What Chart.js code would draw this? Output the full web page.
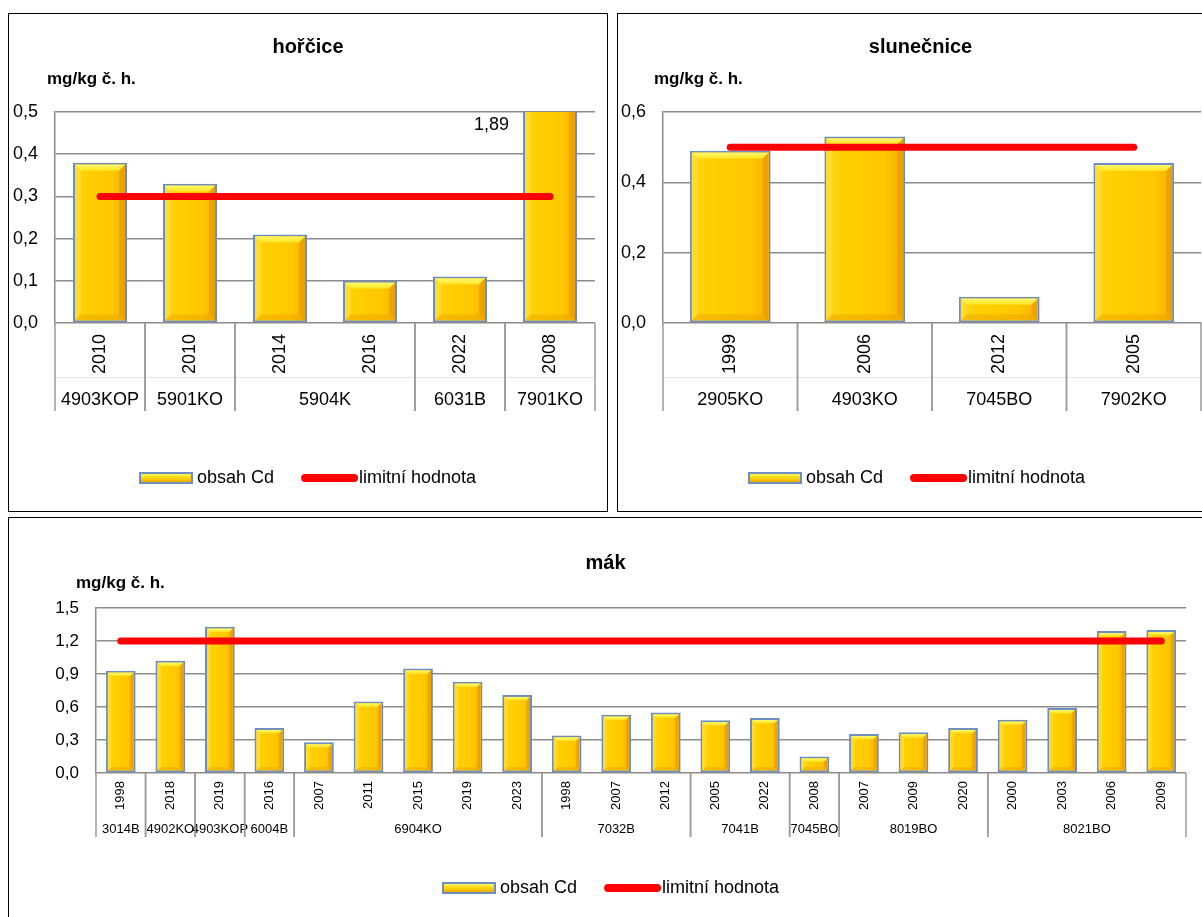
<!DOCTYPE html>
<html lang="cs">
<head>
<meta charset="utf-8">
<title>Obsah Cd – hořčice, slunečnice, mák</title>
<script src="https://cdn.jsdelivr.net/npm/chart.js@4.4.1/dist/chart.umd.min.js"></script>
<style>
  html, body { margin: 0; padding: 0; background: #fff; overflow: hidden; }
  #page { position: relative; width: 1202px; height: 917px; overflow: hidden; background: #fff; }
  .box { position: absolute; border: 1px solid #000; box-sizing: border-box; background: #fff; }
  .box canvas { position: absolute; left: 0; top: 0; }
  #boxHorcice { left: 8px; top: 13px; width: 600px; height: 499px; }
  #boxSlunecnice { left: 617px; top: 13px; width: 607px; height: 499px; }
  #boxMak { left: 8px; top: 517px; width: 1195px; height: 402px; }
</style>
</head>
<body>
<div id="page">
  <div class="box" id="boxHorcice"><canvas id="horcice" width="598" height="497"></canvas></div>
  <div class="box" id="boxSlunecnice"><canvas id="slunecnice" width="605" height="497"></canvas></div>
  <div class="box" id="boxMak"><canvas id="mak" width="1193" height="400"></canvas></div>
</div>
<script>
// hořčice
const horciceYears = ['2010', '2010', '2014', '2016', '2022', '2008'];
const horciceSites = ['4903KOP', '5901KO', '5904K', '5904K', '6031B', '7901KO'];
const horciceCd = [0.38, 0.33, 0.21, 0.10, 0.11, 1.89];
const horciceLimit = [0.3, 0.3, 0.3, 0.3, 0.3, 0.3];
const horciceTicks = [0, 0.1, 0.2, 0.3, 0.4, 0.5];

// slunečnice
const slunecniceYears = ['1999', '2006', '2012', '2005'];
const slunecniceSites = ['2905KO', '4903KO', '7045BO', '7902KO'];
const slunecniceCd = [0.49, 0.53, 0.075, 0.455];
const slunecniceLimit = [0.5, 0.5, 0.5, 0.5];
const slunecniceTicks = [0, 0.2, 0.4, 0.6];

// mák
const makYears = ['1998', '2018', '2019', '2016', '2007', '2011', '2015', '2019', '2023',
  '1998', '2007', '2012', '2005', '2022', '2008', '2007', '2009', '2020',
  '2000', '2003', '2006', '2009'];
const makSites = ['3014B', '4902KO', '4903KOP', '6004B', '6904KO', '6904KO', '6904KO', '6904KO', '6904KO',
  '7032B', '7032B', '7032B', '7041B', '7041B', '7045BO', '8019BO', '8019BO', '8019BO',
  '8021BO', '8021BO', '8021BO', '8021BO'];
const makCd = [0.93, 1.02, 1.33, 0.41, 0.28, 0.65, 0.95, 0.83, 0.71,
  0.34, 0.53, 0.55, 0.48, 0.50, 0.15, 0.355, 0.37, 0.41,
  0.485, 0.59, 1.29, 1.30];
const makLimit = [1.2, 1.2, 1.2, 1.2, 1.2, 1.2, 1.2, 1.2, 1.2, 1.2, 1.2,
  1.2, 1.2, 1.2, 1.2, 1.2, 1.2, 1.2, 1.2, 1.2, 1.2, 1.2];
const makTicks = [0, 0.3, 0.6, 0.9, 1.2, 1.5];

const FONT = "'Liberation Sans', Arial, Helvetica, sans-serif";
const GRID = '#8c8c8c';
const BAR_EDGE = '#6d8ec0';
const UNIT = 'mg/kg č. h.';

Chart.defaults.font.family = FONT;
Chart.defaults.color = '#000';

const comma = v => String(v).replace('.', ',');

function poly(ctx, pts, fill) {
  ctx.beginPath();
  ctx.moveTo(pts[0][0], pts[0][1]);
  for (let i = 1; i < pts.length; i++) ctx.lineTo(pts[i][0], pts[i][1]);
  ctx.closePath();
  ctx.fillStyle = fill;
  ctx.fill();
}

// yellow bevelled face painted inside the border of a bar element
function bevel(ctx, bar) {
  const bw = 2;
  const l = bar.x - bar.width / 2 + bw, r = bar.x + bar.width / 2 - bw;
  const t = Math.min(bar.y, bar.base) + bw, btm = Math.max(bar.y, bar.base) - bw;
  if (r - l < 2 || btm - t < 2) return;
  const b = Math.min(6, (r - l) * 0.13, (btm - t) / 2);

  const g = ctx.createLinearGradient(l, 0, r, 0);
  g.addColorStop(0, '#ffd41f');
  g.addColorStop(0.2, '#ffd000');
  g.addColorStop(0.75, '#ffc700');
  g.addColorStop(1, '#f5b100');
  ctx.fillStyle = g;
  ctx.fillRect(l, t, r - l, btm - t);

  const tg = ctx.createLinearGradient(0, t, 0, t + b);
  tg.addColorStop(0, '#fff872');
  tg.addColorStop(1, '#ffe41c');
  poly(ctx, [[l, t], [r, t], [r - b, t + b], [l + b, t + b]], tg);
  poly(ctx, [[l, t], [l + b, t + b], [l + b, btm - b], [l, btm]], 'rgba(255,236,90,0.35)');
  poly(ctx, [[r, t], [r, btm], [r - b, btm - b], [r - b, t + b]], 'rgba(226,140,0,0.45)');
  poly(ctx, [[l, btm], [r, btm], [r - b, btm - b], [l + b, btm - b]], 'rgba(236,160,0,0.45)');
}

function drawLegend(ctx, chart, x0, cy, size) {
  const [barSet, lineSet] = chart.data.datasets;
  ctx.save();
  ctx.font = size + 'px ' + FONT;
  ctx.textBaseline = 'middle';
  ctx.textAlign = 'left';
  ctx.fillStyle = '#000';

  // bar swatch
  const sw = 54, sh = 12;
  ctx.fillStyle = BAR_EDGE;
  ctx.fillRect(x0, cy - sh / 2, sw, sh);
  const g = ctx.createLinearGradient(0, cy - sh / 2 + 2, 0, cy + sh / 2 - 2);
  g.addColorStop(0, '#fff56a');
  g.addColorStop(0.5, '#ffd400');
  g.addColorStop(1, '#eeaa00');
  ctx.fillStyle = g;
  ctx.fillRect(x0 + 2, cy - sh / 2 + 2, sw - 4, sh - 4);
  ctx.fillStyle = '#000';
  let x = x0 + sw + 4;
  ctx.fillText(barSet.label, x, cy);
  x += ctx.measureText(barSet.label).width + 27;

  // line swatch
  ctx.strokeStyle = lineSet.borderColor;
  ctx.lineWidth = 8;
  ctx.lineCap = 'round';
  ctx.beginPath();
  ctx.moveTo(x + 4, cy);
  ctx.lineTo(x + 53, cy);
  ctx.stroke();
  ctx.fillText(lineSet.label, x + 58, cy);
  ctx.restore();
}

function decorPlugin(spec) {
  const L = spec.layout;
  return {
    id: 'decor',
    afterDatasetDraw(chart, args) {
      if (args.meta.type !== 'bar') return;
      const ctx = chart.ctx, area = chart.chartArea;
      ctx.save();
      ctx.beginPath();
      ctx.rect(area.left, area.top, area.right - area.left, area.bottom - area.top);
      ctx.clip();
      args.meta.data.forEach(bar => bevel(ctx, bar));
      ctx.restore();
    },
    afterDraw(chart) {
      const ctx = chart.ctx, area = chart.chartArea, xs = chart.scales.x;
      const years = chart.data.labels;
      const sites = spec.sites;
      const n = years.length;
      const half = (xs.getPixelForValue(1) - xs.getPixelForValue(0)) / 2;
      const yMax = chart.scales.y.max;

      ctx.save();
      ctx.fillStyle = '#000';

      // title and unit
      ctx.font = 'bold 20px ' + FONT;
      ctx.textAlign = 'center';
      ctx.textBaseline = 'middle';
      ctx.fillText(spec.title, chart.width / 2, L.titleY);
      ctx.font = 'bold 17px ' + FONT;
      ctx.textAlign = 'left';
      ctx.fillText(UNIT, L.unitX, L.unitY);

      // values beyond the axis maximum
      ctx.font = '18px ' + FONT;
      ctx.textAlign = 'right';
      const bars = chart.getDatasetMeta(0).data;
      chart.data.datasets[0].data.forEach((v, i) => {
        if (v > yMax) {
          const bar = bars[i];
          ctx.fillText(comma(v), bar.x - bar.width / 2 - 14, area.top + 13);
        }
      });

      // year row, rotated
      ctx.font = L.catSize + 'px ' + FONT;
      years.forEach((yr, i) => {
        ctx.save();
        ctx.translate(xs.getPixelForValue(i), area.bottom + L.yearGap);
        ctx.rotate(-Math.PI / 2);
        ctx.textAlign = 'right';
        ctx.textBaseline = 'middle';
        ctx.fillText(yr, 0, 0);
        ctx.restore();
      });

      // faint rule between the two label rows
      if (L.rowRule) {
        ctx.strokeStyle = '#e4e4e4';
        ctx.lineWidth = 1;
        ctx.beginPath();
        ctx.moveTo(area.left, area.bottom + L.rowRule + 0.5);
        ctx.lineTo(area.right, area.bottom + L.rowRule + 0.5);
        ctx.stroke();
      }

      // site row with group separators
      ctx.textAlign = 'center';
      ctx.textBaseline = 'middle';
      ctx.strokeStyle = '#9a9a9a';
      ctx.lineWidth = 1.5;
      let start = 0;
      for (let i = 1; i <= n; i++) {
        if (i === n || sites[i] !== sites[start]) {
          const left = xs.getPixelForValue(start) - half;
          const right = xs.getPixelForValue(i - 1) + half;
          ctx.fillText(sites[start], (left + right) / 2, area.bottom + L.siteY);
          ctx.beginPath();
          ctx.moveTo(left, area.bottom);
          ctx.lineTo(left, area.bottom + L.sepLen);
          ctx.moveTo(right, area.bottom);
          ctx.lineTo(right, area.bottom + L.sepLen);
          ctx.stroke();
          start = i;
        }
      }
      ctx.restore();

      drawLegend(ctx, chart, L.legendX, L.legendY, 18);
    }
  };
}

function makeChart(id, spec) {
  const L = spec.layout;
  const ticks = spec.ticks;
  return new Chart(document.getElementById(id), {
    data: {
      labels: spec.years,
      datasets: [
        {
          type: 'bar',
          label: 'obsah Cd',
          data: spec.values,
          backgroundColor: '#ffc800',
          borderColor: BAR_EDGE,
          borderWidth: 2,
          borderSkipped: false,
          categoryPercentage: 1,
          barPercentage: 0.6,
          clip: 0,
          order: 1
        },
        {
          type: 'line',
          label: 'limitní hodnota',
          data: spec.limit,
          borderColor: '#ff0000',
          borderWidth: 7,
          borderCapStyle: 'round',
          pointRadius: 0,
          fill: false,
          order: 0
        }
      ]
    },
    options: {
      responsive: false,
      devicePixelRatio: 1,
      animation: false,
      events: [],
      layout: { padding: { left: 0, right: L.right, top: L.top, bottom: 0 } },
      plugins: {
        legend: { display: false },
        title: { display: false },
        tooltip: { enabled: false }
      },
      scales: {
        x: {
          offset: true,
          grid: { display: false },
          border: { display: false },
          ticks: { display: false },
          afterFit: s => { s.height = L.xHeight; }
        },
        y: {
          min: ticks[0],
          max: ticks[ticks.length - 1],
          ticks: {
            stepSize: ticks[1] - ticks[0],
            padding: 17,
            font: { size: L.tickSize },
            callback: v => v.toFixed(1).replace('.', ',')
          },
          grid: { color: GRID, lineWidth: 1.5, drawTicks: false },
          border: { color: GRID, width: 1.5 },
          afterFit: s => { s.width = L.yWidth; }
        }
      }
    },
    plugins: [decorPlugin(spec)]
  });
}

makeChart('horcice', {
  title: 'hořčice',
  years: horciceYears, sites: horciceSites, values: horciceCd, limit: horciceLimit, ticks: horciceTicks,
  layout: {
    top: 98, right: 12, yWidth: 46, xHeight: 188, tickSize: 18,
    titleY: 33, unitX: 38, unitY: 65,
    catSize: 18, yearGap: 11, rowRule: 54, siteY: 77, sepLen: 88,
    legendX: 130, legendY: 464
  }
});

makeChart('slunecnice', {
  title: 'slunečnice',
  years: slunecniceYears, sites: slunecniceSites, values: slunecniceCd, limit: slunecniceLimit, ticks: slunecniceTicks,
  layout: {
    top: 98, right: 22, yWidth: 45, xHeight: 188, tickSize: 18,
    titleY: 33, unitX: 36, unitY: 65,
    catSize: 18, yearGap: 11, rowRule: 54, siteY: 77, sepLen: 88,
    legendX: 130, legendY: 464
  }
});

makeChart('mak', {
  title: 'mák',
  years: makYears, sites: makSites, values: makCd, limit: makLimit, ticks: makTicks,
  layout: {
    top: 90, right: 16, yWidth: 87, xHeight: 145, tickSize: 17,
    titleY: 45, unitX: 67, unitY: 65,
    catSize: 13, yearGap: 8, rowRule: 0, siteY: 56, sepLen: 64,
    legendX: 433, legendY: 370
  }
});
</script>
</body>
</html>
